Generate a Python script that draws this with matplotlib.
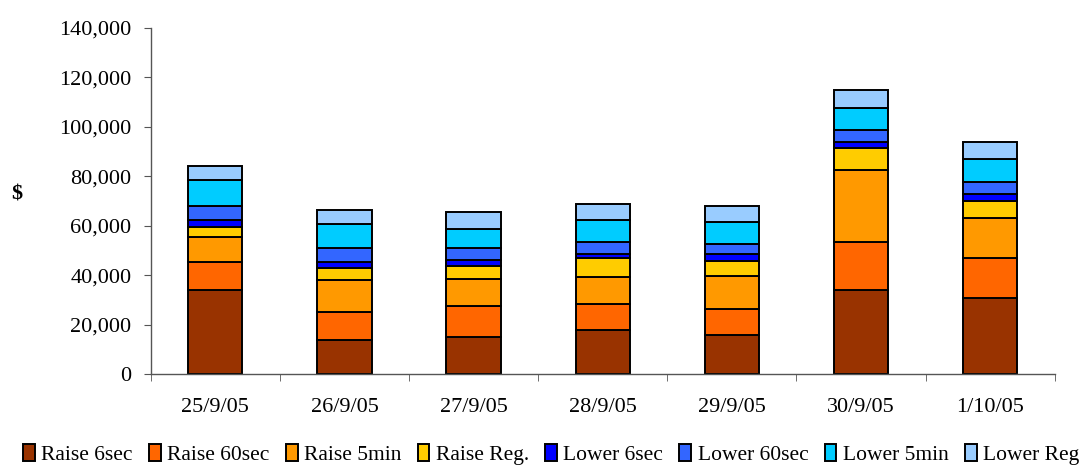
import matplotlib
matplotlib.use("Agg")
import matplotlib.pyplot as plt
import numpy as np
from matplotlib.ticker import FuncFormatter, FixedLocator, NullFormatter

plt.rcParams['font.family'] = ['Liberation Serif', 'DejaVu Serif']

dates = ["25/9/05", "26/9/05", "27/9/05", "28/9/05", "29/9/05", "30/9/05", "1/10/05"]
series_names = ["Raise 6sec", "Raise 60sec", "Raise 5min", "Raise Reg.",
                "Lower 6sec", "Lower 60sec", "Lower 5min", "Lower Reg"]
raise_6sec  = [34000, 13600, 15100, 17800, 15900, 34000, 30600]
raise_60sec = [11200, 11400, 12400, 10500, 10500, 19300, 16200]
raise_5min  = [10400, 13000, 11100, 11100, 13100, 29300, 16200]
raise_reg   = [4000, 4800, 5000, 7700, 6400, 8700, 7100]
lower_6sec  = [2700, 2400, 2500, 1500, 2500, 2600, 2700]
lower_60sec = [5700, 5700, 4800, 4700, 4200, 4800, 4800]
lower_5min  = [10500, 9800, 7900, 8900, 8800, 8800, 9500]
lower_reg   = [5800, 5500, 6800, 6600, 6600, 7400, 6800]
colors = ["#993300", "#FF6600", "#FF9900", "#FFCC00", "#0000FF", "#3366FF", "#00CCFF", "#99CCFF"]

data = [raise_6sec, raise_60sec, raise_5min, raise_reg, lower_6sec, lower_60sec, lower_5min, lower_reg]

fig = plt.figure(figsize=(10.85, 4.67), dpi=100)
ax = fig.add_axes([0.139, 0.199, 0.833, 0.741])

x = np.arange(len(dates))
bottom = np.zeros(len(dates))
for name, vals, c in zip(series_names, data, colors):
    v = np.array(vals, dtype=float)
    ax.bar(x, v, width=0.42, bottom=bottom, color=c, edgecolor='black', linewidth=1.4, label=name)
    bottom += v

ax.set_xlim(-0.5, len(dates) - 0.5)
ax.set_ylim(0, 140000)
ax.set_yticks(np.arange(0, 140001, 20000))
ax.yaxis.set_major_formatter(FuncFormatter(lambda v, p: f"{int(v):,}"))
ax.set_xticks(x)
ax.set_xticklabels(dates)
ax.tick_params(axis='x', which='major', length=0, pad=17, labelsize=16)
ax.xaxis.set_minor_locator(FixedLocator(np.arange(-0.5, len(dates), 1.0)))
ax.xaxis.set_minor_formatter(NullFormatter())
ax.tick_params(axis='x', which='minor', length=5, color='#555555', direction='out')
ax.tick_params(axis='y', length=5, color='#555555', labelsize=16, pad=9)
for s in ['top', 'right']:
    ax.spines[s].set_visible(False)
for s in ['left', 'bottom']:
    ax.spines[s].set_color('#555555')
    ax.spines[s].set_linewidth(1.0)

fig.text(0.015, 0.583, "$", fontsize=16, fontweight='bold', ha='center', va='center')

handles, labels = ax.get_legend_handles_labels()
fig.legend(handles, labels, loc='center', bbox_to_anchor=(0.508, 0.027), ncol=8, frameon=False,
           fontsize=15.5, handlelength=0.55, handleheight=0.8, handletextpad=0.3, columnspacing=0.75,
           borderaxespad=0)

fig.savefig("out.png", dpi=100)
